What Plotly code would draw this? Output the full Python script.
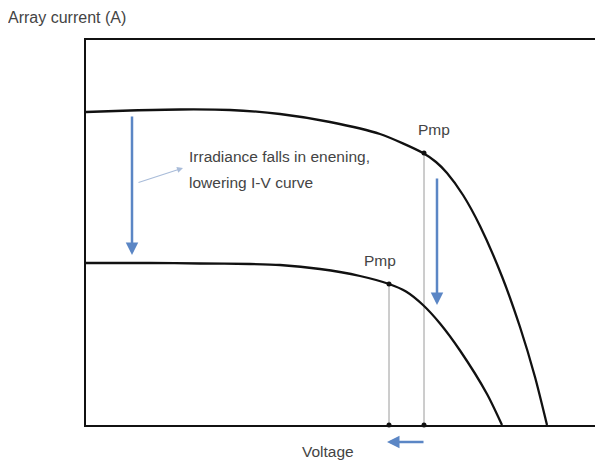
import plotly.graph_objects as go

# Data in chart units (voltage, current); arbitrary scale
v_high = [0.0, 4.4, 9.4, 14.4, 19.4, 24.4, 29.4, 33.7, 35.0, 36.1, 37.7, 39.4, 41.6, 43.4, 44.9, 46.1]
i_high = [31.3, 31.45, 31.55, 31.5, 31.1, 30.3, 29.1, 27.2, 26.3, 25.2, 23.0, 19.9, 14.85, 9.8, 4.8, 0.0]

v_low = [0.0, 6.4, 11.4, 16.4, 19.4, 23.4, 27.4, 30.3, 32.0, 33.7, 35.4, 37.4, 40.1, 41.6]
i_low = [16.2, 16.2, 16.15, 16.1, 16.0, 15.6, 14.9, 14.1, 13.35, 12.0, 10.15, 7.45, 3.1, 0.0]

pmp_v = [33.8, 30.3]
pmp_i = [27.2, 14.1]
pmp_labels = ["Pmp", "Pmp"]

x_max = 51.7
y_max = 38.5

fig = go.Figure()

# vertical guide lines from Pmp to voltage axis
for v, i in zip(pmp_v, pmp_i):
    fig.add_trace(go.Scatter(x=[v, v], y=[i, 0], mode="lines",
                             line=dict(color="#9a9a9a", width=1), hoverinfo="skip"))

fig.add_trace(go.Scatter(x=v_high, y=i_high, mode="lines",
                         line=dict(color="#111111", width=2.3, shape="spline", smoothing=0.7)))
fig.add_trace(go.Scatter(x=v_low, y=i_low, mode="lines",
                         line=dict(color="#111111", width=2.3, shape="spline", smoothing=0.7)))

fig.add_trace(go.Scatter(x=pmp_v, y=pmp_i, mode="markers",
                         marker=dict(color="#111111", size=5)))
fig.add_trace(go.Scatter(x=pmp_v, y=[0, 0], mode="markers",
                         marker=dict(color="#111111", size=5), cliponaxis=False))

arrow_blue = "#5b86c5"
FONT = "Liberation Sans, Arial"
font_txt = dict(family=FONT, size=15.5, color="#444444")

PW, PH = 517.0, 385.0


def px(xp):
    return (xp - 86) / PW


def py(yp):
    return (425 - yp) / PH


annotations = [
    # left vertical arrow
    dict(x=4.6, y=17.0, ax=4.6, ay=31.0, xref="x", yref="y", axref="x", ayref="y",
         showarrow=True, arrowhead=2, arrowsize=1.0, arrowwidth=2.5, arrowcolor=arrow_blue, text=""),
    # right vertical arrow
    dict(x=35.1, y=12.0, ax=35.1, ay=24.8, xref="x", yref="y", axref="x", ayref="y",
         showarrow=True, arrowhead=2, arrowsize=1.0, arrowwidth=2.5, arrowcolor=arrow_blue, text=""),
    # thin pointer arrow
    dict(x=9.7, y=25.7, ax=5.1, ay=24.2, xref="x", yref="y", axref="x", ayref="y",
         showarrow=True, arrowhead=2, arrowsize=1.0, arrowwidth=1.2, arrowcolor="#a9bcd9", text=""),
    # bottom horizontal arrow (below the axis)
    dict(x=px(387), y=py(442), ax=38, ay=0, xref="paper", yref="paper",
         showarrow=True, arrowhead=2, arrowsize=1.0, arrowwidth=2.5, arrowcolor=arrow_blue, text=""),
    dict(x=px(187), y=py(156), xref="paper", yref="paper", xanchor="left", yanchor="middle",
         showarrow=False, text="Irradiance falls in enening,", font=font_txt),
    dict(x=px(187), y=py(182), xref="paper", yref="paper", xanchor="left", yanchor="middle",
         showarrow=False, text="lowering I-V curve", font=font_txt),
    dict(x=px(434), y=py(130), xref="paper", yref="paper", xanchor="center", yanchor="middle",
         showarrow=False, text=pmp_labels[0], font=font_txt),
    dict(x=px(380), y=py(260), xref="paper", yref="paper", xanchor="center", yanchor="middle",
         showarrow=False, text=pmp_labels[1], font=font_txt),
    dict(x=px(6), y=py(18), xref="paper", yref="paper", xanchor="left", yanchor="middle",
         showarrow=False, text="Array current (A)", font=dict(family=FONT, size=16, color="#444444")),
    dict(x=px(328), y=py(452), xref="paper", yref="paper", xanchor="center", yanchor="middle",
         showarrow=False, text="Voltage", font=font_txt),
]

# The page body has an 8px default margin, so the figure is shifted by 8px.
fig.update_layout(
    width=595, height=457,
    margin=dict(l=78, r=0, t=32, b=40, pad=0),
    plot_bgcolor="white", paper_bgcolor="white",
    showlegend=False,
    annotations=annotations,
    xaxis=dict(range=[0, x_max], showgrid=False, zeroline=False, showticklabels=False,
               ticks="", showline=True, linecolor="#111111", linewidth=2, mirror=True),
    yaxis=dict(range=[0, y_max], showgrid=False, zeroline=False, showticklabels=False,
               ticks="", showline=True, linecolor="#111111", linewidth=2, mirror=False),
)

fig.write_html("out.html")
